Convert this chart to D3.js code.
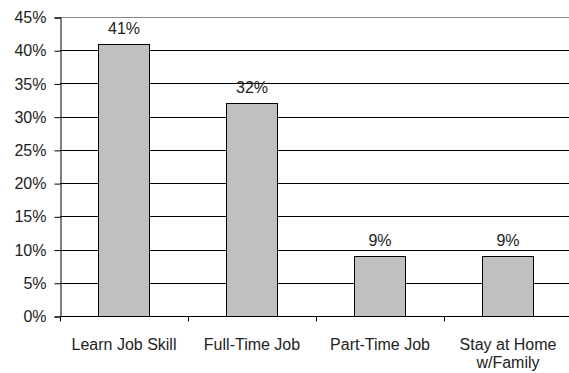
<!DOCTYPE html>
<html>
<head>
<meta charset="utf-8">
<script src="https://cdn.jsdelivr.net/npm/d3@7"></script>
<style>
  html, body { margin: 0; padding: 0; background: #fff; }
  svg { display: block; }
  text { font-family: "Liberation Sans", Arial, sans-serif; fill: #222; }
</style>
</head>
<body>
<svg id="chart" width="569" height="373"></svg>
<script>
// Share of respondents by goal
const categories = [["Learn Job Skill"], ["Full-Time Job"], ["Part-Time Job"], ["Stay at Home", "w/Family"]];
const values = [41, 32, 9, 9];
const yTicks = [0, 5, 10, 15, 20, 25, 30, 35, 40, 45];

const svg = d3.select("#chart");
const margin = { left: 60, top: 17, right: -3, bottom: 57 };
const W = 569, H = 373;
const FS = 16;

const x = d3.scaleBand()
  .domain(d3.range(categories.length))
  .range([margin.left, W - margin.right])
  .paddingInner(0.6)
  .paddingOuter(0.3);

const y = d3.scaleLinear().domain([0, 45]).range([H - margin.bottom, margin.top]);

// Horizontal gridlines
svg.append("g")
  .selectAll("line")
  .data(yTicks.filter(d => d > 0))
  .join("line")
  .attr("x1", margin.left)
  .attr("x2", W - margin.right)
  .attr("y1", d => Math.round(y(d)) + 0.5)
  .attr("y2", d => Math.round(y(d)) + 0.5)
  .attr("stroke", d => d === 45 ? "#888" : "#000")
  .attr("stroke-width", 1);

// Bars
svg.append("g")
  .selectAll("rect")
  .data(values)
  .join("rect")
  .attr("x", (d, i) => Math.round(x(i)) + 0.5)
  .attr("y", d => Math.round(y(d)) + 0.5)
  .attr("width", Math.round(x.bandwidth()))
  .attr("height", d => Math.round(y(0)) - Math.round(y(d)))
  .attr("fill", "#c0c0c0")
  .attr("stroke", "#000")
  .attr("stroke-width", 1);

// Value labels
svg.append("g")
  .selectAll("text")
  .data(values)
  .join("text")
  .attr("x", (d, i) => x(i) + x.bandwidth() / 2)
  .attr("y", d => y(d) - 10)
  .attr("text-anchor", "middle")
  .attr("font-size", FS)
  .text(d => d + "%");

// Y axis
const yAxis = d3.axisLeft(y)
  .tickValues(yTicks)
  .tickFormat(d => d + "%")
  .tickSize(6)
  .tickPadding(8);
const yg = svg.append("g")
  .attr("transform", `translate(${margin.left + 0.5},0.5)`)
  .call(yAxis);
yg.select(".domain").attr("stroke", "#000");
yg.selectAll(".tick line").attr("stroke", "#000");
yg.selectAll(".tick text").attr("font-size", FS).attr("fill", "#222")
  .attr("font-family", "Liberation Sans, Arial, sans-serif");

// X axis baseline with ticks at band boundaries
const bounds = d3.range(categories.length + 1).map(i => margin.left + i * x.step());
const baseY = Math.round(y(0)) + 0.5;
svg.append("line")
  .attr("x1", margin.left).attr("x2", W - margin.right)
  .attr("y1", baseY).attr("y2", baseY)
  .attr("stroke", "#000");
svg.append("g")
  .selectAll("line")
  .data(bounds)
  .join("line")
  .attr("x1", d => Math.round(d) + 0.5)
  .attr("x2", d => Math.round(d) + 0.5)
  .attr("y1", baseY)
  .attr("y2", baseY + 5)
  .attr("stroke", "#000");

// Category labels
const labels = svg.append("g")
  .selectAll("text")
  .data(categories)
  .join("text")
  .attr("x", (d, i) => x(i) + x.bandwidth() / 2)
  .attr("y", 350)
  .attr("text-anchor", "middle")
  .attr("font-size", FS);
labels.selectAll("tspan")
  .data(d => d)
  .join("tspan")
  .attr("x", function () { return this.parentNode.getAttribute("x"); })
  .attr("dy", (d, i) => i === 0 ? 0 : 18)
  .text(d => d);
</script>
</body>
</html>
